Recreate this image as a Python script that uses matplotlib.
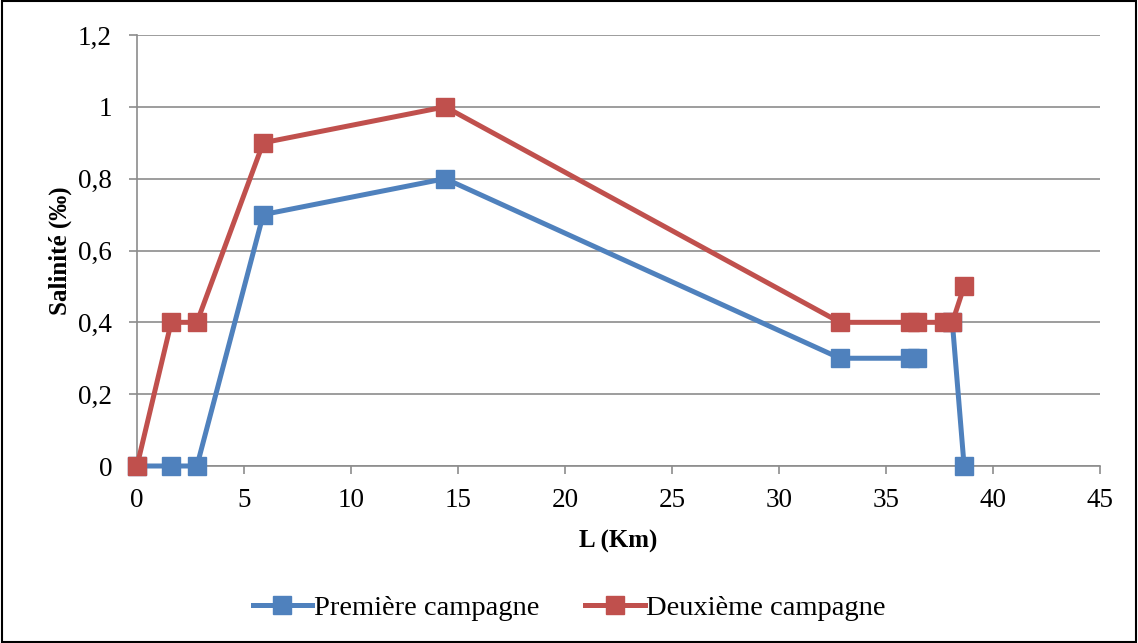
import numpy as np
import matplotlib.pyplot as plt
from matplotlib.ticker import FuncFormatter
from matplotlib.patches import Rectangle

plt.rcParams['font.family'] = ['Liberation Serif', 'DejaVu Serif']

# distance along the river (km) and salinity (‰)
dist_1 = [0, 1.6, 2.8, 5.9, 14.4, 32.85, 36.1, 36.45, 37.7, 38.1, 38.65]
sal_1 = [0, 0, 0, 0.7, 0.8, 0.3, 0.3, 0.3, np.nan, 0.4, 0]
dist_2 = [0, 1.6, 2.8, 5.9, 14.4, 32.85, 36.1, 36.45, 37.7, 38.1, 38.65]
sal_2 = [0, 0.4, 0.4, 0.9, 1.0, 0.4, 0.4, 0.4, 0.4, 0.4, 0.5]
labels = ['Première campagne', 'Deuxième campagne']

blue = '#4F81BD'
red = '#C0504D'

fig = plt.figure(figsize=(11.38, 6.43), dpi=100)
ax = fig.add_axes([137 / 1138, 1 - 466 / 643, (1100 - 137) / 1138, (466 - 35) / 643])

ax.plot(dist_1, sal_1, color=blue, lw=3.6, marker='s', ms=13,
        label=labels[0], zorder=3, clip_on=False)
ax.plot(dist_2, sal_2, color=red, lw=3.6, marker='s', ms=13,
        label=labels[1], zorder=4, clip_on=False)

ax.set_xlim(0, 45)
ax.set_ylim(0, 1.2)
ax.set_xticks(np.arange(0, 46, 5))
ax.set_yticks(np.arange(0, 1.21, 0.2))
ax.yaxis.set_major_formatter(FuncFormatter(
    lambda v, p: ('%g' % round(v, 1)).replace('.', ',')))
ax.grid(axis='y', color='#8c8c8c', lw=1.2)
ax.set_axisbelow(True)
for s in ['top', 'right']:
    ax.spines[s].set_visible(False)
for s in ['left', 'bottom']:
    ax.spines[s].set_color('#8c8c8c')
    ax.spines[s].set_linewidth(1.2)
ax.tick_params(axis='both', colors='#8c8c8c', labelcolor='black',
               labelsize=19.5, length=6, width=1.2)
ax.tick_params(axis='x', pad=10)
ax.tick_params(axis='y', pad=12)

ax.set_xlabel('L (Km)', fontsize=18, fontweight='bold', labelpad=12)
ax.set_ylabel('Salinité (‰)', fontsize=18, fontweight='bold', labelpad=4)

fig.legend(loc='center', bbox_to_anchor=(0.5, 1 - 608 / 643), ncol=2,
           frameon=False, fontsize=20.5, handlelength=2.1, handletextpad=0.05,
           columnspacing=1.6, markerscale=1.0)

# outer frame
fig.patches.append(Rectangle((0.002, 0.002), 0.996, 0.996, transform=fig.transFigure,
                             fill=False, edgecolor='black', lw=1.5))

fig.savefig('out.png', dpi=100)
